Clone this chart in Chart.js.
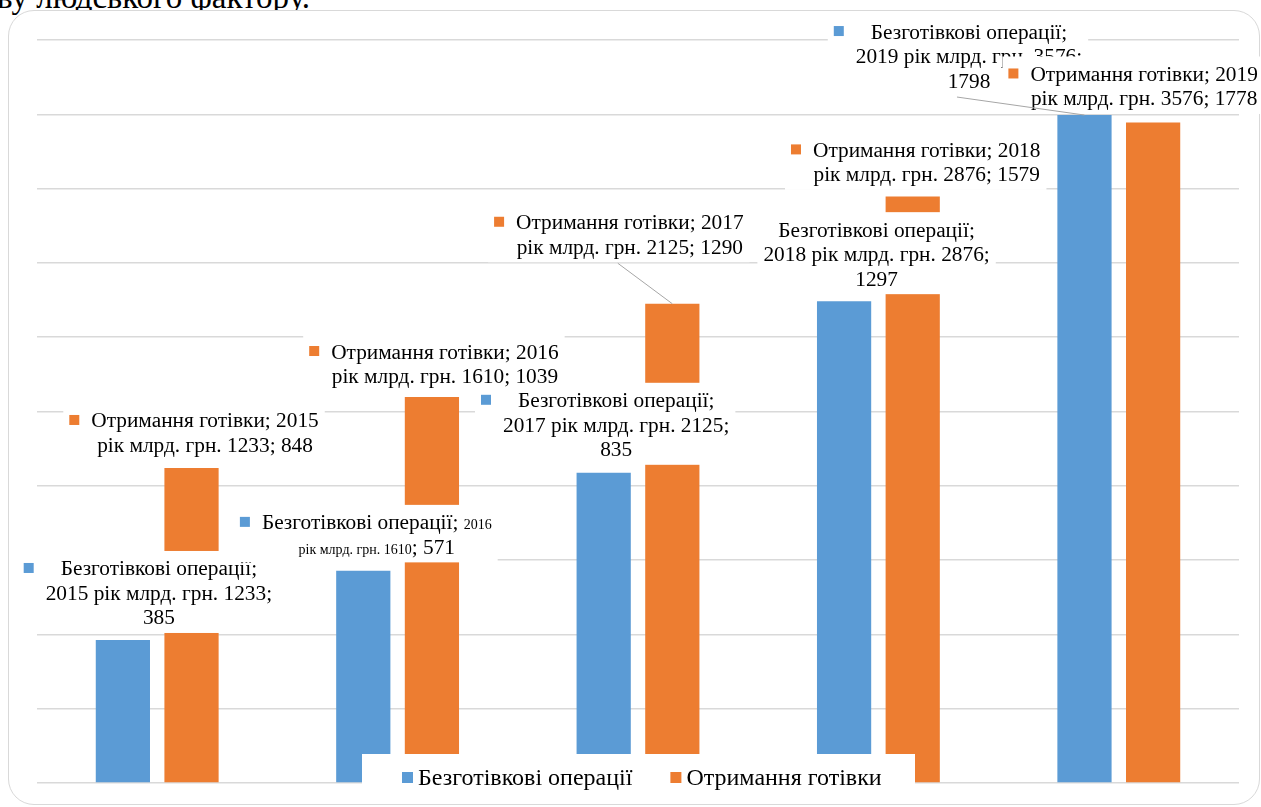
<!DOCTYPE html>
<html><head><meta charset="utf-8">
<script src="https://cdn.jsdelivr.net/npm/chart.js@4"></script>
<style>
html,body{margin:0;padding:0;background:#fff;overflow:hidden;width:1261px;height:807px}
#top{position:absolute;left:-3px;top:-21px;font:33px 'Liberation Serif',serif;color:#000;white-space:nowrap}
#frame{position:absolute;left:8px;top:10px;width:1252px;height:795px;border:1.5px solid #d9d9d9;border-radius:26px;box-sizing:border-box;background:#fff}
canvas{position:absolute;left:0;top:0}
</style></head><body>
<div id="top">ву людського фактору.</div>
<div id="frame"></div>
<canvas id="c" width="1261" height="807"></canvas>
<script>
// ---- data ----
const categories = ['2015 рік млрд. грн. 1233','2016 рік млрд. грн. 1610','2017 рік млрд. грн. 2125','2018 рік млрд. грн. 2876','2019 рік млрд. грн. 3576'];
const seriesNames = ['Безготівкові операції','Отримання готівки'];
const cashless = [385,571,835,1297,1798];
const cash = [848,1039,1290,1579,1778];
const seriesColors = ['#5B9BD5','#ED7D31'];
const yMax = 2000, yStep = 200;

// ---- label placement (offsets from the top of each bar; words per line) ----
const labelLayout = [
  [{dx:36,dy:-71,breaks:[2,5,1]},{dx:13.5,dy:-48,catSize:14,breaks:[3,5]},{dx:12.5,dy:-72,breaks:[2,5,1]},{dx:32.5,dy:-71,noKey:true,breaks:[2,5,1]},{dx:-115.5,dy:-83,leader:true,breaks:[2,5,1]}],
  [{dx:13.5,dy:-47,breaks:[3,5]},{dx:13,dy:-45,breaks:[3,5]},{dx:-42.5,dy:-81,leader:true,breaks:[3,5]},{dx:14,dy:-46,breaks:[3,5]},{dx:-9,dy:-48,breaks:[3,5]}]
];
const seriesValues = [cashless, cash];
const FONT = "'Liberation Serif', 'Times New Roman', serif";
const BIG = 21.33, LINE_H = 24.5;

function buildWords(ds, i, cfg){
  const small = cfg.catSize || BIG;
  const words = [];
  seriesNames[ds].split(' ').forEach(w => words.push([{t:w,s:BIG}]));
  words[words.length-1].push({t:';',s:BIG});
  categories[i].split(' ').forEach(w => words.push([{t:w,s:small}]));
  words[words.length-1].push({t:';',s:BIG});
  words.push([{t:String(seriesValues[ds][i]),s:BIG}]);
  return words;
}
function pieceW(ctx,p){ ctx.font = p.s+'px '+FONT; return ctx.measureText(p.t).width; }
function wordW(ctx,w){ return w.reduce((a,p)=>a+pieceW(ctx,p),0); }
function spaceW(ctx,prev){ const s = prev[prev.length-1].s; ctx.font = s+'px '+FONT; return ctx.measureText(' ').width; }

function layoutLines(ctx, words, breaks){
  const lines = []; let idx = 0;
  breaks.forEach(n => {
    const ws = words.slice(idx, idx+n); idx += n;
    let w = 0;
    ws.forEach((x,j) => { if (j>0) w += spaceW(ctx, ws[j-1]); w += wordW(ctx,x); });
    lines.push({words:ws, w:w});
  });
  return lines;
}

const labelPlugin = {
  id:'excelLabels',
  afterDatasetsDraw(chart){
    const ctx = chart.ctx;
    ctx.save();
    const leaders = [];
    [0,1].forEach(ds => {
      const meta = chart.getDatasetMeta(ds);
      meta.data.forEach((el,i) => {
        const cfg = labelLayout[ds][i];
        const lines = layoutLines(ctx, buildWords(ds,i,cfg), cfg.breaks);
        const W = Math.max(...lines.map(l=>l.w));
        const cx = el.x + cfg.dx, y1 = el.y + cfg.dy;
        const yLast = y1 + (lines.length-1)*LINE_H;
        const keyR = cx - W/2 - 12, keyL = keyR - 10;
        const left = (cfg.noKey ? cx - W/2 : keyL) - 6;
        const right = cx + W/2 + 6;
        const top = y1 - 18, bottom = yLast + 15;
        ctx.fillStyle = '#ffffff';
        ctx.fillRect(left, top, right-left, bottom-top);
        if (!cfg.noKey){
          ctx.fillStyle = seriesColors[ds];
          ctx.fillRect(keyL, y1 - 6, 10, 10);
        }
        ctx.fillStyle = '#000';
        ctx.textBaseline = 'alphabetic';
        ctx.textAlign = 'left';
        lines.forEach((ln,k) => {
          let x = cx - ln.w/2;
          const base = y1 + k*LINE_H + 6.5;
          ln.words.forEach((w,j) => {
            if (j>0) x += spaceW(ctx, ln.words[j-1]);
            w.forEach(p => { ctx.font = p.s+'px '+FONT; ctx.fillText(p.t, x, base); x += ctx.measureText(p.t).width; });
          });
        });
        if (cfg.leader) leaders.push([cx-12, bottom+1, el.x, el.y]);
      });
    });
    ctx.strokeStyle = '#a6a6a6'; ctx.lineWidth = 1;
    leaders.forEach(l => { ctx.beginPath(); ctx.moveTo(l[0],l[1]); ctx.lineTo(l[2],l[3]); ctx.stroke(); });
    ctx.restore();
  },
  afterDraw(chart){
    const ctx = chart.ctx;
    ctx.save();
    const fs = 24;
    ctx.font = fs+'px '+FONT;
    const w = seriesNames.map(n => ctx.measureText(n).width);
    const key = 11, gap = 5, itemGap = 38;
    const boxL = 362, boxR = 915, boxT = 754, boxB = 796;
    ctx.fillStyle = '#fff';
    ctx.fillRect(boxL, boxT, boxR-boxL, boxB-boxT);
    let x = boxL + 40;
    const cy = 777;
    seriesNames.forEach((n,k) => {
      ctx.fillStyle = seriesColors[k];
      ctx.fillRect(x, cy-5, key, key);
      x += key + gap;
      ctx.fillStyle = '#000';
      ctx.textBaseline = 'alphabetic';
      ctx.font = fs+'px '+FONT;
      ctx.fillText(n, x, cy+8);
      x += w[k] + itemGap;
    });
    ctx.restore();
  }
};

new Chart(document.getElementById('c'), {
  type:'bar',
  data:{
    labels: categories,
    datasets:[
      {label:seriesNames[0], data:cashless, backgroundColor:seriesColors[0], categoryPercentage:0.571, barPercentage:0.79},
      {label:seriesNames[1], data:cash, backgroundColor:seriesColors[1], categoryPercentage:0.571, barPercentage:0.79}
    ]
  },
  options:{
    responsive:false,
    animation:false,
    layout:{padding:{left:37,right:22,top:40,bottom:24}},
    plugins:{legend:{display:false}, tooltip:{enabled:false}},
    scales:{
      x:{display:false},
      y:{min:0,max:yMax,
         ticks:{display:false,stepSize:yStep},
         grid:{color:'#d9d9d9',lineWidth:1.5,drawTicks:false},
         border:{display:false}}
    }
  },
  plugins:[labelPlugin]
});
</script>
</body></html>
